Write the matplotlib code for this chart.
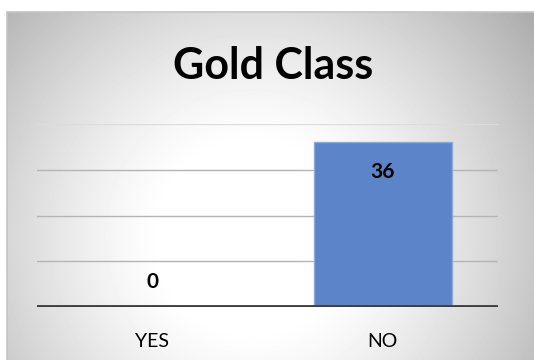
import numpy as np
import matplotlib
matplotlib.use("Agg")
import matplotlib.pyplot as plt
from matplotlib.patches import Rectangle

categories = ["YES", "NO"]
counts = [0, 36]
grid_levels = [10, 20, 30, 40]

W, H = 534, 360
fig = plt.figure(figsize=(W / 100, H / 100), dpi=100)
fig.patch.set_facecolor("white")

# chart area with soft radial gradient
x0, y0 = 7, 12
bg = fig.add_axes([x0 / W, 0, 1 - x0 / W, 1 - y0 / H])
yy, xx = np.mgrid[0:H - y0, 0:W - x0]
cx, cy = 245, 225
r = np.hypot((xx - cx) / 300.0, (yy - cy) / 300.0)
shade = 1.0 - 0.38 * np.clip(r - 0.3, 0, 1) ** 1.3
bg.imshow(shade, cmap="gray", vmin=0, vmax=1, aspect="auto",
          interpolation="bilinear")
bg.set_axis_off()
fig.add_artist(Rectangle((x0 / W, -0.01), 1.0, 1 - y0 / H + 0.01,
                         transform=fig.transFigure, fill=False,
                         edgecolor="#c4c4c4", linewidth=1.2))

ax = fig.add_axes([37 / W, 53 / H, 461 / W, 183 / H])
ax.patch.set_alpha(0)
x = np.arange(len(categories))
ax.bar(x, counts, width=0.6, color="#5b84c9", edgecolor="#8eaadb",
       linewidth=1.0, zorder=3)

for lv in grid_levels:
    ax.axhline(lv, color="#dcdcdc" if lv == 40 else "#b4b4b4",
               linewidth=1.0, zorder=1)
ax.axhline(0, color="#3f3f3f", linewidth=3.5, zorder=4)

for xi, v in zip(x, counts):
    ypos = v - 6.5 if v > 0 else 5.5
    ax.text(xi, ypos, str(v), ha="center", va="center",
            fontsize=15, fontweight="bold", family="Lato", zorder=5)

ax.set_xlim(-0.5, 1.5)
ax.set_ylim(0, 40)
ax.set_xticks(x)
ax.set_xticklabels(categories, family="Lato", fontsize=14)
ax.tick_params(axis="x", length=0, pad=19)
ax.set_yticks([])
for s in ax.spines.values():
    s.set_visible(False)

fig.text(273 / W, 1 - 66 / H, "Gold Class", ha="center", va="center",
         fontsize=31, fontweight="bold", family="Lato")

fig.savefig("out.png", dpi=100)
